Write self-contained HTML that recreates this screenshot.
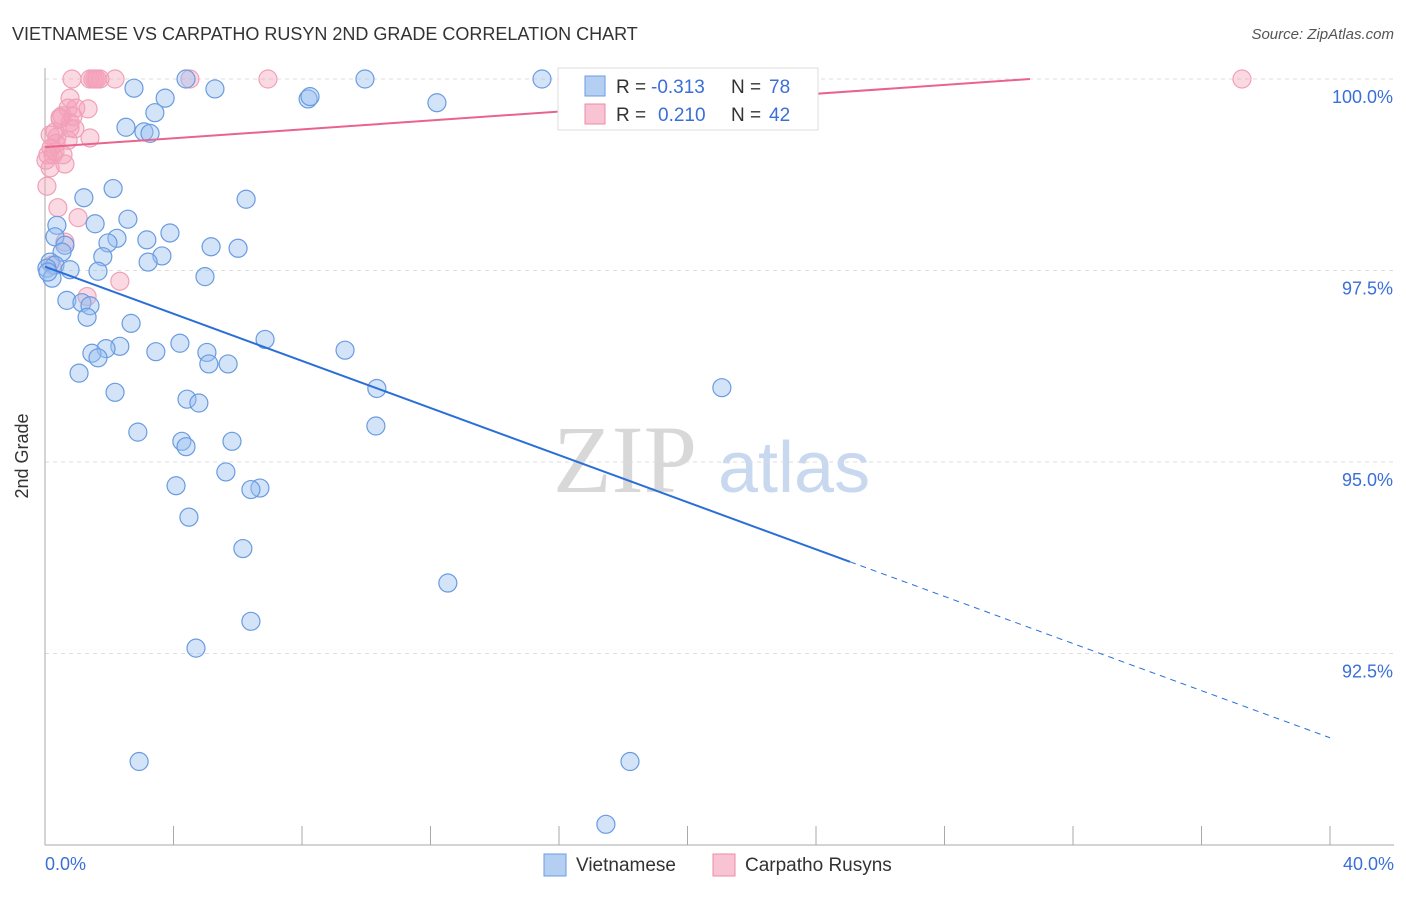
<!DOCTYPE html>
<html><head><meta charset="utf-8"><style>
body{margin:0;background:#fff;font-family:"Liberation Sans",sans-serif;}
svg text{font-family:"Liberation Sans",sans-serif;}
</style></head><body>
<svg width="1406" height="892" xmlns="http://www.w3.org/2000/svg">
<text x="12" y="40" font-size="18" fill="#333">VIETNAMESE VS CARPATHO RUSYN 2ND GRADE CORRELATION CHART</text>
<text x="1394" y="39" font-size="15" fill="#555" text-anchor="end" font-style="italic">Source: ZipAtlas.com</text>
<text x="553" y="492" font-size="96" fill="#d8d8d8" style="font-family:'Liberation Serif',serif">ZIP</text>
<text x="718" y="492" font-size="72" fill="#c8d8ef">atlas</text>
<g id="grid"></g>
<line x1="45" y1="68" x2="45" y2="845" stroke="#aaa"/>
<line x1="45" y1="845" x2="1394" y2="845" stroke="#aaa"/>
<g id="xt"></g>
<text x="28" y="456" font-size="18" fill="#333" transform="rotate(-90 28 456)" text-anchor="middle">2nd Grade</text>
<text x="45" y="870" font-size="18" fill="#3a6fd8">0.0%</text>
<text x="1394" y="870" font-size="18" fill="#3a6fd8" text-anchor="end">40.0%</text>
<g id="pts"></g>
<g id="lines"></g>
<g>
<rect x="558" y="68" width="260" height="62" fill="#fff" stroke="#ddd"/>
<rect x="585" y="76" width="20" height="20" fill="#b5cff2" stroke="#6a9be0"/>
<rect x="585" y="104" width="20" height="20" fill="#f8c4d3" stroke="#ee8aa8"/>
<text x="616" y="93" font-size="19" fill="#333">R =</text>
<text x="651" y="93" font-size="19" fill="#3a6fd8">-0.313</text>
<text x="731" y="93" font-size="19" fill="#333">N =</text>
<text x="769" y="93" font-size="19" fill="#3a6fd8">78</text>
<text x="616" y="121" font-size="19" fill="#333">R =</text>
<text x="658" y="121" font-size="19" fill="#3a6fd8">0.210</text>
<text x="731" y="121" font-size="19" fill="#333">N =</text>
<text x="769" y="121" font-size="19" fill="#3a6fd8">42</text>
</g>
<g>
<rect x="544" y="854" width="22" height="22" fill="#b5cff2" stroke="#6a9be0"/>
<text x="576" y="871" font-size="19" fill="#333">Vietnamese</text>
<rect x="713" y="854" width="22" height="22" fill="#f8c4d3" stroke="#ee8aa8"/>
<text x="745" y="871" font-size="19" fill="#333">Carpatho Rusyns</text>
</g>
</svg>
<script>
const yTicks=[100,97.5,95,92.5];
const yTickLabels=["100.0%","97.5%","95.0%","92.5%"];
const xTicks=[0,4,8,12,16,20,24,28,32,36,40];
const blueX=[2.77,4.39,9.96,15.47,3.74,5.29,8.19,8.25,12.20,3.42,2.52,3.08,3.27,2.12,1.21,6.26,2.58,1.56,0.37,3.89,0.31,2.24,3.17,1.96,0.62,5.17,6.01,0.53,1.80,3.64,3.21,0.16,0.31,0.06,0.78,1.65,0.22,4.98,0.68,1.15,1.40,1.31,2.68,6.85,4.20,2.33,1.90,1.46,3.45,5.04,9.34,1.65,5.10,5.70,1.06,10.33,21.07,2.18,4.42,4.79,10.30,2.89,4.26,4.39,5.82,5.63,4.08,6.69,6.41,4.48,6.16,12.54,6.41,4.70,2.93,18.21,17.46,0.09];
const blueY=[99.88,100,100,100,99.75,99.87,99.74,99.77,99.69,99.56,99.37,99.31,99.29,98.57,98.45,98.43,98.17,98.11,98.09,97.99,97.94,97.92,97.90,97.86,97.83,97.81,97.79,97.74,97.68,97.69,97.61,97.61,97.57,97.53,97.51,97.49,97.40,97.42,97.11,97.08,97.04,96.89,96.81,96.60,96.55,96.51,96.48,96.42,96.44,96.43,96.46,96.36,96.28,96.28,96.16,95.96,95.97,95.91,95.82,95.77,95.47,95.39,95.27,95.20,95.27,94.87,94.69,94.66,94.64,94.28,93.87,93.42,92.92,92.57,91.09,91.09,90.27,97.48];
const pinkX=[0.84,1.71,2.18,1.40,1.49,1.56,1.62,4.51,6.94,37.26,0.78,0.72,0.96,1.34,0.53,0.47,0.87,0.78,0.93,0.31,0.16,0.37,1.40,0.72,0.19,0.31,0.56,0.09,0.62,0.16,0.06,0.40,1.03,0.62,0.22,1.31,2.33,0.78,0.47,0.25,0.03,0.34];
const pinkY=[100,100,100,100,100,100,100,100,100,100,99.75,99.62,99.62,99.61,99.52,99.50,99.51,99.43,99.35,99.31,99.27,99.24,99.23,99.20,99.10,99.05,99.01,99.01,98.89,98.84,98.60,98.32,98.19,97.87,97.57,97.16,97.36,99.36,99.48,99.01,98.94,99.16];
const blueTrend=[97.55,91.40], blueSolidEnd=25.06;
const pinkTrend=[99.11,100], pinkEnd=30.66;
const NS="http://www.w3.org/2000/svg";
const sx=v=>45+v/40*1285, sy=v=>79+(100-v)*76.6;
function mk(t,a,p){const e=document.createElementNS(NS,t);for(const k in a)e.setAttribute(k,a[k]);document.getElementById(p).appendChild(e);return e;}
yTicks.forEach((t,i)=>{
 const l=mk('line',{x1:45,x2:1394,y1:sy(t),y2:sy(t),stroke:'#ddd','stroke-dasharray':'4,4'},'grid');
 
 
 const tx=mk('text',{x:1393,y:sy(t)+24,'font-size':18,fill:'#3a6fd8','text-anchor':'end'},'grid');
 tx.textContent=yTickLabels[i];
 
 
});
xTicks.forEach(t=>{
 const l=mk('line',{x1:sx(t),x2:sx(t),y1:826,y2:845,stroke:'#aaa'},'xt');
 
 
});
pinkX.forEach((x,i)=>{
 const c=mk('circle',{cx:sx(x),cy:sy(pinkY[i]),r:9,fill:'rgba(244,160,185,0.4)',stroke:'#f0a0b8','stroke-width':1.2},'pts');
 
 
});
blueX.forEach((x,i)=>{
 const c=mk('circle',{cx:sx(x),cy:sy(blueY[i]),r:9,fill:'rgba(150,190,240,0.42)',stroke:'#6a9be0','stroke-width':1.2},'pts');
 
 
});
const by=x=>blueTrend[0]+(blueTrend[1]-blueTrend[0])*x/40;
let l=mk('line',{x1:sx(0),y1:sy(by(0)),x2:sx(blueSolidEnd),y2:sy(by(blueSolidEnd)),stroke:'#2a6fd8','stroke-width':2},'lines');


l=mk('line',{x1:sx(blueSolidEnd),y1:sy(by(blueSolidEnd)),x2:sx(40),y2:sy(by(40)),stroke:'#2a6fd8','stroke-width':1,'stroke-dasharray':'6,5'},'lines');


l=mk('line',{x1:sx(0),y1:sy(pinkTrend[0]),x2:sx(pinkEnd),y2:sy(pinkTrend[1]),stroke:'#e8648c','stroke-width':2},'lines');


</script>
</body></html>
